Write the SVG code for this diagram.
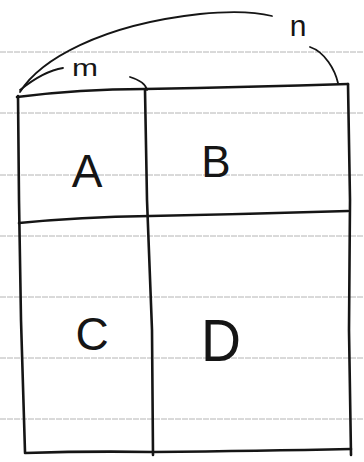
<svg xmlns="http://www.w3.org/2000/svg" width="364" height="462" viewBox="0 0 364 462">
<style>
.rule{stroke:#b4b4b4;stroke-width:1;stroke-dasharray:6 1;fill:none}
.ink{stroke:#151515;stroke-width:2.6;fill:none;stroke-linecap:round;stroke-linejoin:round}
.thin{stroke:#151515;stroke-width:1.8;fill:none;stroke-linecap:round}
.lbl{font-family:"Liberation Sans",Arial,sans-serif;fill:#151515;text-anchor:middle}
</style>
<rect width="364" height="462" fill="#ffffff"/>
<g id="paper">
<line class="rule" x1="0" y1="52" x2="364" y2="52"/>
<line class="rule" x1="0" y1="113" x2="364" y2="113"/>
<line class="rule" x1="0" y1="175" x2="364" y2="175"/>
<line class="rule" x1="0" y1="236" x2="364" y2="236"/>
<line class="rule" x1="0" y1="297" x2="364" y2="297"/>
<line class="rule" x1="0" y1="358" x2="364" y2="358"/>
<line class="rule" x1="0" y1="419" x2="364" y2="419"/>
</g>
<g id="grid">
<path class="ink" d="M18,96 L19,200 L21,320 L25,452"/>
<path class="ink" d="M145,90 L147,200 L152,330 L153,455"/>
<path class="ink" d="M348,84 L350,200 L349,330 L351,455"/>
<path class="ink" d="M17,97 Q80,89 145,89 Q250,87 348,84"/>
<path class="ink" d="M19,223 Q80,217 150,216 Q250,214 348,211"/>
<path class="ink" d="M25,453 Q90,451 153,452 Q260,451 351,449"/>
</g>
<g id="A"><text class="lbl" x="87" y="187" font-size="46">A</text></g>
<g id="B"><text class="lbl" x="216" y="177" font-size="44">B</text></g>
<g id="C"><text class="lbl" x="92" y="350" font-size="46">C</text></g>
<g id="D"><text class="lbl" x="221" y="361" font-size="60" textLength="40" lengthAdjust="spacingAndGlyphs">D</text></g>
<g id="connectors">
<path class="thin" d="M20,92 C40,60 100,25 200,14 C240,10 260,13 272,16"/>
<path class="thin" d="M20,90 C35,78 50,70 63,68"/>
<path class="thin" d="M130,77 C140,80 146,85 147,90"/>
<path class="thin" d="M310,47 C325,52 335,70 338,83"/>
</g>
<g id="m"><text class="lbl" x="85" y="76" font-size="24" textLength="26" lengthAdjust="spacingAndGlyphs">m</text></g>
<g id="n"><text class="lbl" x="298" y="36" font-size="30">n</text></g>
</svg>
